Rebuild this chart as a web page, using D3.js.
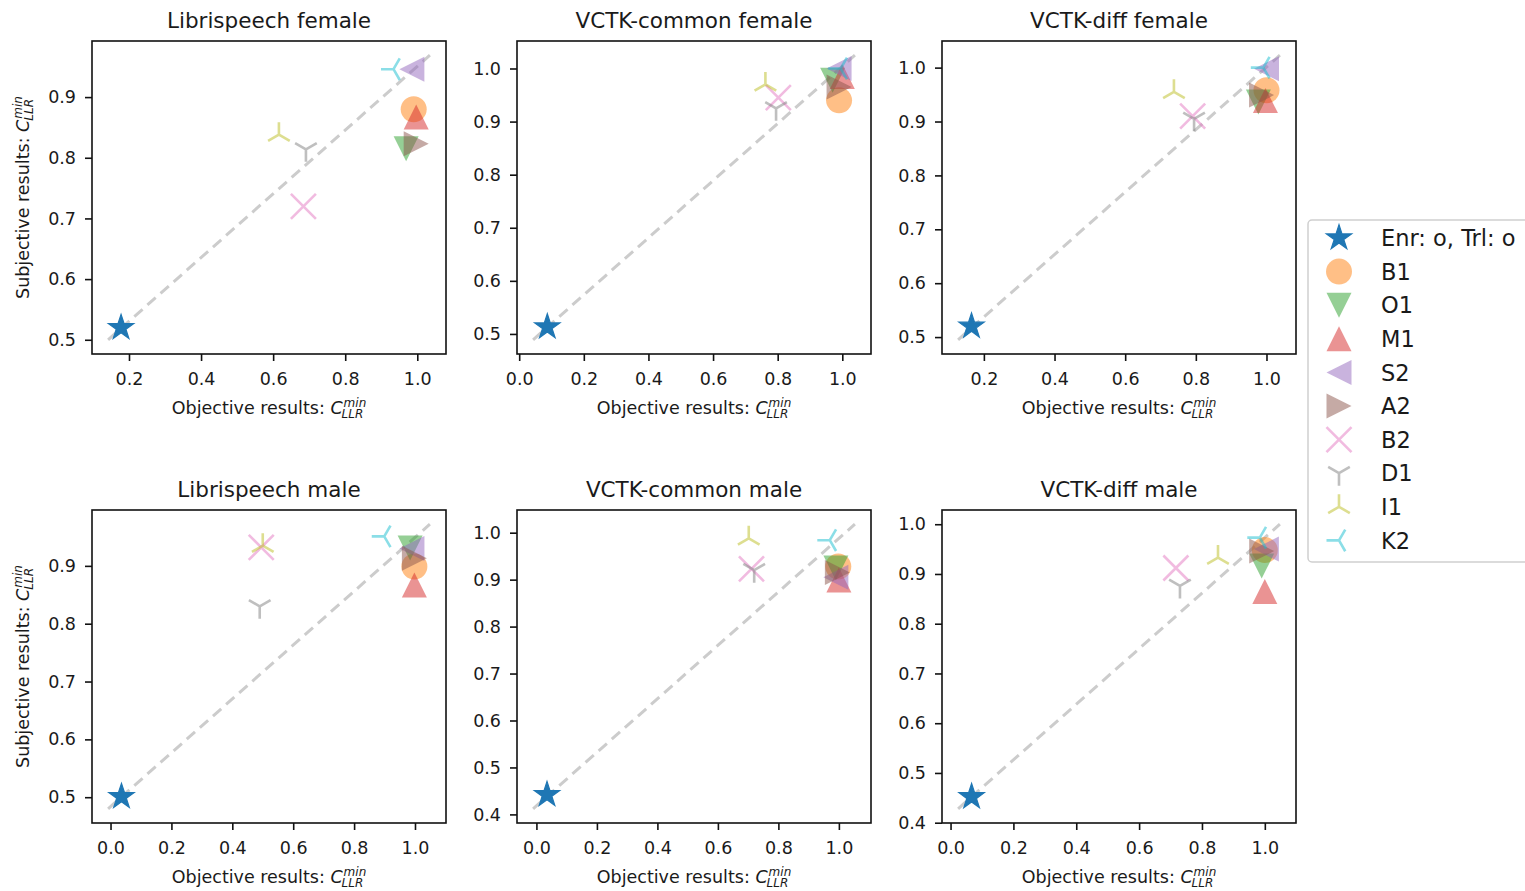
<!DOCTYPE html>
<html>
<head>
<meta charset="utf-8">
<script src="https://cdn.jsdelivr.net/npm/d3@7"></script>
<style>
  body { margin: 0; background: #fff; }
  svg { display: block; font-family: "DejaVu Sans", sans-serif; }
</style>
</head>
<body>
<div id="chart"></div>
<script>
const panelTitles = ["Librispeech female", "VCTK-common female", "VCTK-diff female",
                     "Librispeech male", "VCTK-common male", "VCTK-diff male"];
const systems = ["Enr: o, Trl: o", "B1", "O1", "M1", "S2", "A2", "B2", "D1", "I1", "K2"];

// objective / subjective C_llr^min, one value per system (same order as systems)
const objLibFemale   = [0.178, 0.990, 0.969, 0.997, 0.985, 0.997, 0.684, 0.691, 0.616, 0.934];
const subjLibFemale  = [0.520, 0.880, 0.815, 0.867, 0.946, 0.823, 0.720, 0.814, 0.838, 0.946];
const objComFemale   = [0.087, 0.990, 0.970, 1.000, 0.990, 0.990, 0.802, 0.795, 0.762, 0.995];
const subjComFemale  = [0.513, 0.940, 0.978, 0.985, 1.000, 0.965, 0.945, 0.925, 0.970, 1.000];
const objDiffFemale  = [0.165, 1.000, 0.977, 0.997, 1.000, 0.986, 0.791, 0.795, 0.738, 0.991];
const subjDiffFemale = [0.520, 0.958, 0.936, 0.939, 0.998, 0.949, 0.910, 0.905, 0.955, 1.000];
const objLibMale     = [0.036, 0.998, 0.984, 0.998, 0.990, 0.998, 0.495, 0.490, 0.500, 0.899];
const subjLibMale    = [0.501, 0.899, 0.931, 0.867, 0.930, 0.913, 0.932, 0.830, 0.935, 0.951];
const objComMale     = [0.035, 0.998, 0.990, 1.000, 0.990, 0.995, 0.711, 0.720, 0.702, 0.970];
const subjComMale    = [0.442, 0.928, 0.925, 0.899, 0.905, 0.915, 0.923, 0.920, 0.988, 0.984];
const objDiffMale    = [0.067, 1.000, 0.990, 1.000, 1.005, 0.990, 0.717, 0.730, 0.851, 0.984];
const subjDiffMale   = [0.452, 0.948, 0.916, 0.865, 0.950, 0.946, 0.912, 0.876, 0.933, 0.973];

// dashed reference line per panel: [x0, y0, x1, y1]
const refLines = [
  [0.142, 0.500, 1.035, 0.969],
  [0.043, 0.489, 1.039, 1.025],
  [0.127, 0.495, 1.038, 1.023],
  [-0.008, 0.480, 1.049, 0.972],
  [-0.011, 0.412, 1.053, 1.018],
  [0.024, 0.428, 1.048, 1.000]
];

const objective = [objLibFemale, objComFemale, objDiffFemale, objLibMale, objComMale, objDiffMale];
const subjective = [subjLibFemale, subjComFemale, subjDiffFemale, subjLibMale, subjComMale, subjDiffMale];

// marker look per system
const markerStyle = [
  {shape: "star", color: "#1f77b4", alpha: 1},
  {shape: "circle", color: "#ff7f0e", alpha: 0.5},
  {shape: "tridown_filled", color: "#2ca02c", alpha: 0.5},
  {shape: "triup_filled", color: "#d62728", alpha: 0.5},
  {shape: "trileft_filled", color: "#9467bd", alpha: 0.5},
  {shape: "triright_filled", color: "#8c564b", alpha: 0.5},
  {shape: "x", color: "#e377c2", alpha: 0.5},
  {shape: "tri_down", color: "#7f7f7f", alpha: 0.5},
  {shape: "tri_up", color: "#bcbd22", alpha: 0.5},
  {shape: "tri_left", color: "#17becf", alpha: 0.5}
];

const W = 1525, H = 891;
const panelW = 354, panelH = 313;
const lefts = [92, 517, 942], tops = [41, 510];
const R = 12.5;

const svg = d3.select("#chart").append("svg").attr("width", W).attr("height", H);

function starPath(r) {
  const pts = [];
  for (let k = 0; k < 10; k++) {
    const rad = k % 2 === 0 ? r : r * 0.381966;
    const a = -Math.PI / 2 + k * Math.PI / 5;
    pts.push([rad * Math.cos(a), rad * Math.sin(a)]);
  }
  return "M" + pts.map(p => p.join(",")).join("L") + "Z";
}

function drawMarker(g, st, cx, cy) {
  const m = g.append("g").attr("transform", `translate(${cx},${cy})`);
  const c = st.color, a = st.alpha;
  const poly = pts => m.append("path").attr("d", "M" + pts.map(p => p.join(",")).join("L") + "Z")
    .attr("fill", c).attr("fill-opacity", a);
  const lines = segs => m.append("path")
    .attr("d", segs.map(s => `M${s[0]},${s[1]}L${s[2]},${s[3]}`).join(""))
    .attr("stroke", c).attr("stroke-opacity", a).attr("stroke-width", 2.6).attr("fill", "none");
  const s = 0.866 * R, h = 0.5 * R;
  switch (st.shape) {
    case "star":
      m.append("path").attr("d", starPath(R + 0.8)).attr("fill", c).attr("stroke", c).attr("stroke-width", 1.2);
      break;
    case "circle":
      m.append("circle").attr("r", R + 0.5).attr("fill", c).attr("fill-opacity", a);
      break;
    case "tridown_filled": poly([[-R, -R], [R, -R], [0, R]]); break;
    case "triup_filled": poly([[0, -R], [-R, R], [R, R]]); break;
    case "trileft_filled": poly([[-R, 0], [R, -R], [R, R]]); break;
    case "triright_filled": poly([[R, 0], [-R, -R], [-R, R]]); break;
    case "x": lines([[-R, -R, R, R], [-R, R, R, -R]]); break;
    case "tri_down": lines([[0, 0, 0, R], [0, 0, s, -h], [0, 0, -s, -h]]); break;
    case "tri_up": lines([[0, 0, 0, -R], [0, 0, s, h], [0, 0, -s, h]]); break;
    case "tri_left": lines([[0, 0, -R, 0], [0, 0, h, -s], [0, 0, h, s]]); break;
  }
}

// label "<text> C^min_LLR" centred at the group's origin, as one text element
function mathLabel(g, text) {
  const t = g.append("text").attr("font-size", 17.5).attr("fill", "#1a1a1a");
  t.append("tspan").text(text);
  t.append("tspan").attr("font-style", "italic").text("C");
  const w = t.node().getComputedTextLength();
  t.append("tspan").attr("x", w + 1).attr("y", -6.7)
    .attr("font-size", 12).attr("font-style", "italic").text("min");
  t.append("tspan").attr("x", w - 1).attr("y", 3.5)
    .attr("font-size", 12).attr("font-style", "italic").text("LLR");
  const bb = t.node().getBBox();
  t.attr("transform", `translate(${-(bb.x + bb.width / 2)},0)`);
}

panelTitles.forEach((title, i) => {
  const col = i % 3, row = Math.floor(i / 3);
  const g = svg.append("g").attr("transform", `translate(${lefts[col]},${tops[row]})`);
  const [x0, y0, x1, y1] = refLines[i];
  const mx = (x1 - x0) * 0.05, my = (y1 - y0) * 0.05;
  const x = d3.scaleLinear().domain([x0 - mx, x1 + mx]).range([0, panelW]);
  const y = d3.scaleLinear().domain([y0 - my, y1 + my]).range([panelH, 0]);

  g.append("line")
    .attr("x1", x(x0)).attr("y1", y(y0)).attr("x2", x(x1)).attr("y2", y(y1))
    .attr("stroke", "#cccccc").attr("stroke-width", 3).attr("stroke-dasharray", "11,6.5");

  systems.forEach((name, k) => {
    drawMarker(g, markerStyle[k], x(objective[i][k]), y(subjective[i][k]));
  });

  g.append("rect").attr("width", panelW).attr("height", panelH)
    .attr("fill", "none").attr("stroke", "#111").attr("stroke-width", 1.6);

  const xa = g.append("g").attr("transform", `translate(0,${panelH})`)
    .call(d3.axisBottom(x).ticks(5).tickFormat(d3.format(".1f")).tickSize(7).tickSizeOuter(0).tickPadding(12));
  const ya = g.append("g")
    .call(d3.axisLeft(y).ticks(5).tickFormat(d3.format(".1f")).tickSize(7).tickSizeOuter(0).tickPadding(9));
  [xa, ya].forEach(a => {
    a.select(".domain").remove();
    a.selectAll(".tick line").attr("stroke", "#111").attr("stroke-width", 1.6);
    a.selectAll(".tick text").attr("font-size", 17.5).attr("fill", "#1a1a1a")
      .attr("font-family", "DejaVu Sans, sans-serif");
  });

  g.append("text").attr("x", panelW / 2).attr("y", -13).attr("text-anchor", "middle")
    .attr("font-size", 21.5).attr("fill", "#1a1a1a").text(title);

  mathLabel(g.append("g").attr("transform", `translate(${panelW / 2},${panelH + 60})`), "Objective results: ");
  if (col === 0) {
    mathLabel(g.append("g").attr("transform", `translate(-63,${panelH / 2}) rotate(-90)`), "Subjective results: ");
  }
});

// legend
const lg = svg.append("g").attr("transform", "translate(1308,220)");
lg.append("rect").attr("width", 240).attr("height", 342).attr("rx", 4)
  .attr("fill", "#fff").attr("stroke", "#cfcfcf").attr("stroke-width", 1.5);
systems.forEach((name, k) => {
  const yy = 18 + k * 33.6;
  drawMarker(lg, markerStyle[k], 31, yy);
  lg.append("text").attr("x", 73).attr("y", yy).attr("dy", "0.36em")
    .attr("font-size", 22.5).attr("fill", "#1a1a1a").text(name);
});
</script>
</body>
</html>
